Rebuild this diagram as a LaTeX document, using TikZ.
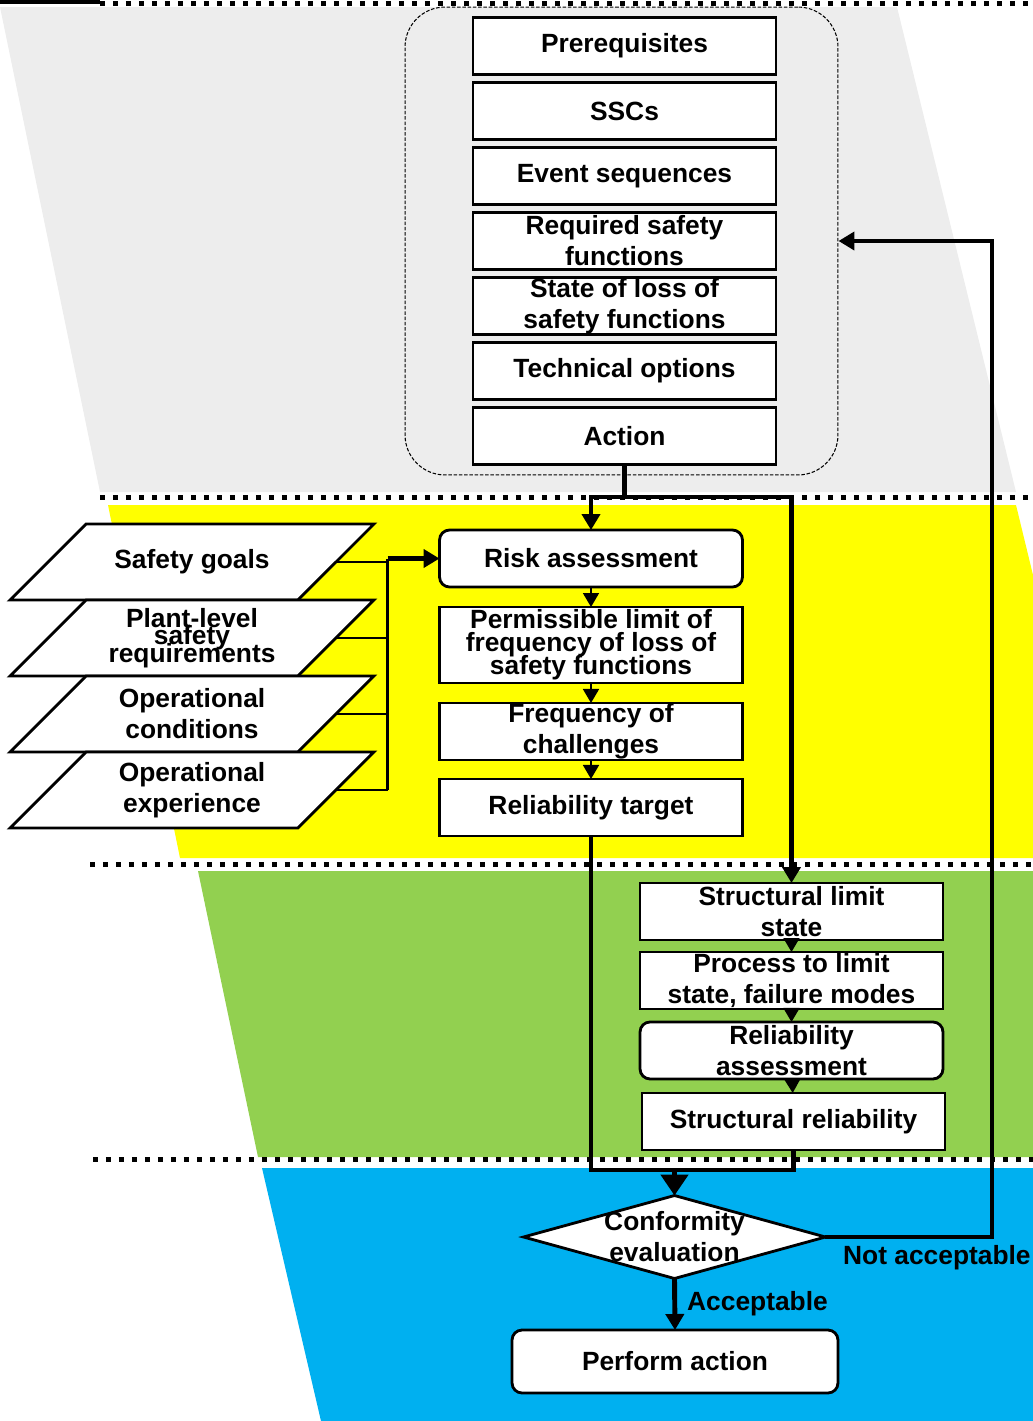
\documentclass[tikz,border=0pt]{standalone}
\usepackage{fontspec}
\setmainfont{Liberation Sans}
\usepackage{tikz}
\usetikzlibrary{arrows.meta, positioning, shapes.geometric}

\definecolor{bandgray}{HTML}{EDEDED}
\definecolor{bandyellow}{HTML}{FFFF00}
\definecolor{bandgreen}{HTML}{92D050}
\definecolor{bandblue}{HTML}{00B0F0}

\begin{document}
\lineskiplimit=-100pt
\begin{tikzpicture}[x=0.02cm,y=-0.02cm,
  font=\bfseries\fontsize{15pt}{17.6pt}\selectfont,
  box/.style={draw,line width=1.6pt,fill=white,minimum width=6.06cm,
    minimum height=1.14cm,inner ysep=0pt,outer sep=0pt,align=center},
  rbox/.style={box,rounded corners=0.2cm},
  input/.style={trapezium,trapezium left angle=45,trapezium right angle=135,
    draw,line width=1.6pt,fill=white,inner sep=0pt,outer sep=0pt,
    text width=4.24cm,text height=1.52cm,text depth=0pt},
  decision/.style={diamond,draw,line width=1.6pt,fill=white,
    minimum width=6.04cm,minimum height=1.66cm,inner sep=0pt,outer sep=0pt},
  trunk/.style={line width=2.8pt},
  flow/.style={trunk,-{Triangle[length=0.32cm,width=0.36cm]}},
  bigflow/.style={trunk,-{Triangle[length=0.42cm,width=0.54cm]}},
  link/.style={line width=1pt,-{Triangle[length=0.28cm,width=0.32cm]}},
  bus/.style={line width=1.6pt},
  dotline/.style={line width=0.1cm,dash pattern=on 0.1cm off 0.16cm}]
  \useasboundingbox (0,0) rectangle (1033,1421);

  % coloured bands
  \fill[bandgray] (0,7) -- (897,7) -- (1016,492) -- (100,492) -- cycle;
  \fill[bandyellow] (108,505) -- (1016,505) -- (1033,575) -- (1033,858)
    -- (180,858) -- cycle;
  \fill[bandgreen] (198,871) -- (1033,871) -- (1033,1157) -- (258,1157) -- cycle;
  \fill[bandblue] (262,1168) -- (1033,1168) -- (1033,1421) -- (321,1421) -- cycle;
  \draw[line width=0.08cm] (0,2) -- (100,2);
  \draw[dotline] (100,3) -- (1033,3);
  \draw[dotline] (100,497) -- (1033,497);
  \draw[dotline] (90,864) -- (1033,864);
  \draw[dotline] (93,1159) -- (1033,1159);

  % planning steps
  \node[draw,line width=0.6pt,dash pattern=on 2pt off 1pt,rounded corners=0.8cm,
        minimum width=8.66cm,minimum height=9.36cm] (grp) at (621.5,241) {};
  \node[box] (pre) at (624.5,46) {Prerequisites};
  \node[box,below=0.16cm of pre] (ssc) {SSCs};
  \node[box,below=0.16cm of ssc] (evt) {Event sequences};
  \node[box,below=0.16cm of evt] (rsf) {Required safety\\functions};
  \node[box,below=0.16cm of rsf] (lsf) {State of loss of\\safety functions};
  \node[box,below=0.16cm of lsf] (opt) {Technical options};
  \node[box,below=0.16cm of opt] (act) {Action};

  % reliability target
  \node[rbox] (risk) at (591,558.5) {Risk assessment};
  \node[box,minimum height=1.52cm,below=0.4cm of risk,
        font=\bfseries\fontsize{15pt}{13pt}\selectfont] (perm)
    {Permissible limit of\\frequency of loss of\\safety functions};
  \node[box,below=0.4cm of perm] (frq) {Frequency of\\challenges};
  \node[box,below=0.38cm of frq] (rt) {Reliability target};

  \node[input,label={center:Safety goals}] (sg) at (192,562) {};
  \node[input,below=0cm of sg,
        label={[align=center,font=\bfseries\fontsize{15pt}{10pt}\selectfont]
          center:{Plant-level\\safety\\requirements}}] (plr) {};
  \node[input,below=0cm of plr,
        label={[align=center]center:{Operational\\conditions}}] (oc) {};
  \node[input,below=0cm of oc,
        label={[align=center]center:{Operational\\experience}}] (oe) {};

  % structural reliability
  \node[box] (sls) at (791.5,911.5) {Structural limit\\state};
  \node[box,below=0.24cm of sls] (ptl) {Process to limit\\state, failure modes};
  \node[rbox,below=0.26cm of ptl] (ras) {Reliability\\assessment};
  \node[box,below=0.28cm of ras,xshift=0.04cm] (sr) {Structural reliability};

  % evaluation
  \node[decision,label={[align=center]center:{Conformity\\evaluation}}] (conf)
    at (674.5,1237) {};
  \node[rbox,minimum width=6.52cm,minimum height=1.26cm] (perf) at (675,1361.5)
    {Perform action};
  \node[anchor=west] (nacc) at (837,1258) {Not acceptable};
  \node[anchor=west] (acc) at (681,1304) {Acceptable};

  % connectors
  \coordinate (spl) at (624.5,497);
  \draw[flow] (act.south) -- (spl) -| (risk.north);
  \draw[flow] (spl) -| (sls.north);
  \foreach \a/\b in {risk/perm,perm/frq,frq/rt,sls/ptl,ptl/ras,ras/sr}
    \draw[link] (\a) -- (\b);

  \coordinate[left=1.04cm of risk.west] (bus);
  \foreach \n in {sg,plr,oc,oe}
    \draw[bus] (\n.right side) -- (\n.right side -| bus);
  \draw[bus] (bus) -- (bus |- oe.right side);
  \draw[flow] (bus) -- (risk.west);

  \coordinate (mrg) at (674.5,1170);
  \draw[trunk] (rt.south) |- (mrg);
  \draw[trunk] (sr.south) |- (mrg);
  \draw[bigflow] (mrg) -- (conf.north);

  \coordinate (back) at (992,241);
  \draw[flow] (conf.east) -| (back) -- (grp.east);
  \draw[flow] (conf.south) -- (perf.north);
\end{tikzpicture}
\end{document}
